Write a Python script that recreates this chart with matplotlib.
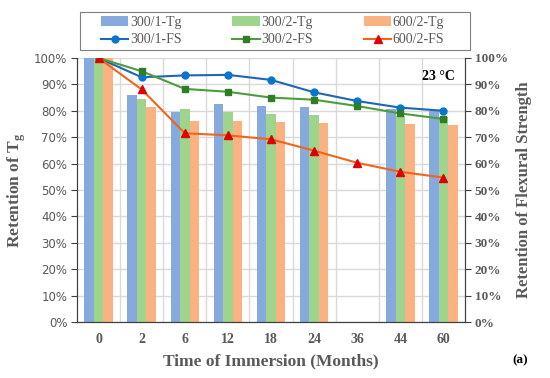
import numpy as np
import matplotlib.pyplot as plt
from matplotlib.patches import Rectangle

# Данные
months = ['0', '2', '6', '12', '18', '24', '36', '44', '60']

tg_300_1 = [100, 86.0, 79.7, 82.6, 81.8, 81.6, np.nan, 80.5, 80.0]
tg_300_2 = [100, 84.4, 80.7, 79.7, 78.8, 78.4, np.nan, 78.2, 77.8]
tg_600_2 = [100, 81.4, 76.0, 76.3, 75.8, 75.3, np.nan, 74.9, 74.5]

fs_300_1 = [100, 92.7, 93.4, 93.6, 91.7, 87.0, 83.7, 81.2, 80.0]
fs_300_2 = [100, 95.0, 88.3, 87.2, 85.0, 84.2, 81.8, 79.0, 76.9]
fs_600_2 = [100, 88.1, 71.5, 70.7, 69.2, 64.9, 60.3, 56.9, 54.7]

x = np.arange(len(months))
w = 0.22

fig = plt.figure(figsize=(5.5, 3.78), dpi=100)
ax = fig.add_axes([0.14, 0.148, 0.7055, 0.6986])
ax2 = ax.twinx()

gray = '#595959'
serif = 'Liberation Serif'

b1 = ax.bar(x - w, tg_300_1, w, color='#86A9DE', zorder=2, label='300/1-Tg')
b2 = ax.bar(x, tg_300_2, w, color='#9ED48C', zorder=2, label='300/2-Tg')
b3 = ax.bar(x + w, tg_600_2, w, color='#FAB283', zorder=2, label='600/2-Tg')

l1, = ax2.plot(x, fs_300_1, color='#1F66B8', lw=1.5, marker='o', ms=5,
               mfc='#0A75CE', mec='#0A75CE', label='300/1-FS')
l2, = ax2.plot(x, fs_300_2, color='#4C9E3A', lw=1.5, marker='s', ms=5,
               mfc='#2F7D25', mec='#2F7D25', label='300/2-FS')
l3, = ax2.plot(x, fs_600_2, color='#F0651A', lw=1.5, marker='^', ms=6,
               mfc='#E00000', mec='#E00000', label='600/2-FS')

for a in (ax, ax2):
    a.set_ylim(0, 100)
    a.set_yticks(np.arange(0, 101, 10))
    a.set_xlim(-0.5, len(months) - 0.5)
    a.spines['top'].set_visible(False)
    a.spines['left'].set_color('#404040')
    a.spines['right'].set_color('#404040')
    a.spines['bottom'].set_color('#404040')

ax.set_yticklabels([f'{v}%' for v in range(0, 101, 10)], fontsize=8.5,
                   color=gray, family='DejaVu Sans')
ax2.set_yticklabels([f'{v}%' for v in range(0, 101, 10)], fontsize=9.5,
                    color=gray, family=serif, fontweight='bold')
ax.set_xticks(x)
ax.set_xticklabels(months, fontsize=10, color=gray, family=serif, fontweight='bold')
ax.tick_params(axis='x', length=0, pad=8)
ax.tick_params(axis='y', length=4, color='#404040', pad=3)
ax2.tick_params(axis='y', length=4, color='#404040', pad=3)

# сетка
ax.grid(axis='y', color='#D9D9D9', lw=1, zorder=0)
for b in np.arange(0.5, len(months) - 0.5, 1):
    ax.axvline(b, color='#D9D9D9', lw=1, zorder=0)
ax.set_axisbelow(True)

ax.set_xlabel('Time of Immersion (Months)', fontsize=12.5, color=gray,
              family=serif, fontweight='bold', labelpad=5)
ax.set_ylabel('Retention of T$_\\mathregular{g}$', fontsize=12.5, color=gray,
              family=serif, fontweight='bold', labelpad=4)
ax2.set_ylabel('Retention of Flexural Strength', fontsize=12, color=gray,
               family=serif, fontweight='bold', labelpad=6)

ax2.text(0.975, 0.93, '23 °C', transform=ax2.transAxes, ha='right', va='center',
         fontsize=10, family=serif, fontweight='bold', color='black')
fig.text(0.96, 0.047, '(a)', ha='right', va='center', fontsize=9.5,
         family=serif, fontweight='bold', color='black')

# легенда в рамке
fig.patches.append(Rectangle((80 / 550, 1 - 50 / 378), 390 / 550, 38 / 378,
                             transform=fig.transFigure, fill=False,
                             edgecolor='#808080', lw=0.8))
handles = [b1, l1, b2, l2, b3, l3]
leg = fig.legend(handles, [h.get_label() for h in handles], ncol=3,
                 loc='center', bbox_to_anchor=(0.4955, 1 - 31 / 378),
                 prop={'family': serif, 'size': 10}, labelcolor=gray,
                 frameon=False, handlelength=2.0, columnspacing=3.65,
                 handletextpad=0.1, borderpad=0.2, labelspacing=0.35)

fig.savefig('out.png', dpi=100)
